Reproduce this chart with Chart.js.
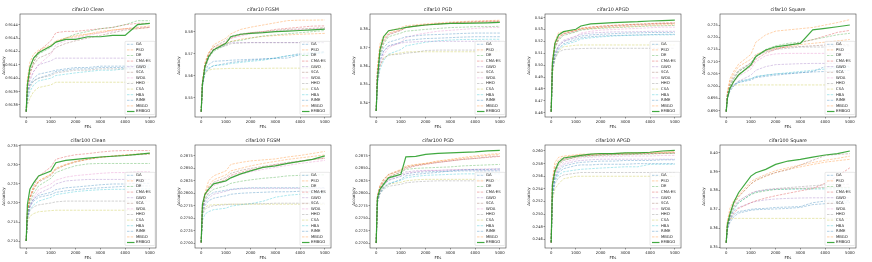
<!DOCTYPE html>
<html>
<head>
<meta charset="utf-8">
<script src="https://cdn.jsdelivr.net/npm/chart.js@4/dist/chart.umd.min.js"></script>
<style>
  html, body { margin: 0; padding: 0; background: #fff; overflow: hidden; width: 872px; height: 262px; }
  canvas { position: absolute; }
</style>
</head>
<body>
<script>
// shared x samples (function evaluations) and x ticks
const FES = [0, 50, 150, 300, 500, 1000, 1200, 1600, 2000, 2500, 3000, 3500, 4000, 4500, 5000];
const X_TICKS = [0, 1000, 2000, 3000, 4000, 5000];

const ALGOS = ["GA", "PSO", "DE", "CMA-ES", "GWO", "SCA", "WOA", "HHO", "CSA", "HBA", "RIME", "MBGO", "EMBGO"];

// series rows follow ALGOS order
const C10_CLEAN = [
  [0.91375, 0.9139, 0.91395, 0.914, 0.91403, 0.91405, 0.91406, 0.91407, 0.91408, 0.91408, 0.91409, 0.91409, 0.91409, 0.9141, 0.9141],
  [0.91375, 0.914, 0.91412, 0.91418, 0.91421, 0.91425, 0.91428, 0.9143, 0.91431, 0.91433, 0.91435, 0.91436, 0.91437, 0.91438, 0.91439],
  [0.91375, 0.91395, 0.91405, 0.91412, 0.91418, 0.91423, 0.91427, 0.9143, 0.91433, 0.91435, 0.91437, 0.91438, 0.9144, 0.91443, 0.91443],
  [0.91375, 0.91392, 0.91402, 0.91412, 0.9142, 0.91428, 0.91434, 0.91435, 0.91435, 0.91436, 0.91437, 0.91438, 0.9144, 0.91441, 0.91441],
  [0.91375, 0.9139, 0.91398, 0.91405, 0.9141, 0.91413, 0.91415, 0.91415, 0.91415, 0.91415, 0.91415, 0.91415, 0.91415, 0.91415, 0.91415],
  [0.91375, 0.91395, 0.91405, 0.9141, 0.91415, 0.91419, 0.91423, 0.91426, 0.91428, 0.9143, 0.91432, 0.91434, 0.91436, 0.91437, 0.91438],
  [0.91375, 0.9139, 0.914, 0.91405, 0.9141, 0.91418, 0.91425, 0.91428, 0.9143, 0.91432, 0.91434, 0.91435, 0.91437, 0.91438, 0.91438],
  [0.91375, 0.91385, 0.91393, 0.91398, 0.914, 0.91402, 0.91404, 0.91405, 0.91406, 0.91406, 0.91407, 0.91407, 0.91407, 0.91407, 0.91407],
  [0.91375, 0.9138, 0.91385, 0.9139, 0.91393, 0.91395, 0.91397, 0.91397, 0.91397, 0.91397, 0.91397, 0.91397, 0.91397, 0.91397, 0.91397],
  [0.91375, 0.91383, 0.9139, 0.91395, 0.91398, 0.914, 0.91402, 0.91403, 0.91404, 0.91405, 0.91406, 0.91406, 0.91407, 0.91407, 0.91408],
  [0.91375, 0.91388, 0.91395, 0.91398, 0.914, 0.91403, 0.91405, 0.91406, 0.91407, 0.91407, 0.91408, 0.91408, 0.91408, 0.91409, 0.91409],
  [0.91375, 0.91398, 0.91408, 0.91415, 0.9142, 0.91424, 0.91427, 0.9143, 0.91432, 0.91433, 0.91434, 0.91436, 0.91437, 0.91437, 0.91438],
  [0.91375, 0.91395, 0.91408, 0.91415, 0.91419, 0.91424, 0.91427, 0.91429, 0.91429, 0.91431, 0.91431, 0.91432, 0.91432, 0.9144, 0.91441]
];
const C10_FGSM = [
  [0.5436, 0.556, 0.562, 0.565, 0.5665, 0.5668, 0.567, 0.5672, 0.5674, 0.5676, 0.5678, 0.568, 0.5695, 0.570, 0.5705],
  [0.5436, 0.556, 0.565, 0.570, 0.574, 0.577, 0.579, 0.581, 0.582, 0.583, 0.584, 0.585, 0.5852, 0.5852, 0.5853],
  [0.5436, 0.555, 0.563, 0.568, 0.571, 0.574, 0.5755, 0.576, 0.577, 0.578, 0.5785, 0.579, 0.5795, 0.580, 0.5805],
  [0.5436, 0.557, 0.564, 0.569, 0.572, 0.575, 0.577, 0.5785, 0.5795, 0.580, 0.581, 0.5815, 0.582, 0.5825, 0.5826],
  [0.5436, 0.556, 0.564, 0.569, 0.572, 0.574, 0.575, 0.575, 0.575, 0.575, 0.575, 0.575, 0.575, 0.575, 0.575],
  [0.5436, 0.557, 0.565, 0.570, 0.573, 0.576, 0.578, 0.579, 0.5795, 0.580, 0.5805, 0.581, 0.5812, 0.5815, 0.5818],
  [0.5436, 0.555, 0.563, 0.568, 0.5715, 0.575, 0.577, 0.578, 0.579, 0.5795, 0.580, 0.5805, 0.581, 0.5812, 0.5815],
  [0.5436, 0.556, 0.564, 0.569, 0.572, 0.5735, 0.5745, 0.5748, 0.575, 0.575, 0.575, 0.575, 0.575, 0.575, 0.575],
  [0.5436, 0.557, 0.561, 0.5625, 0.563, 0.5632, 0.5633, 0.5633, 0.5633, 0.5633, 0.5634, 0.5634, 0.5634, 0.5634, 0.5634],
  [0.5436, 0.556, 0.5615, 0.5635, 0.5645, 0.565, 0.5655, 0.566, 0.5665, 0.567, 0.568, 0.569, 0.5695, 0.570, 0.5705],
  [0.5436, 0.555, 0.561, 0.563, 0.5645, 0.5655, 0.566, 0.5665, 0.567, 0.5675, 0.568, 0.569, 0.570, 0.5705, 0.571],
  [0.5436, 0.557, 0.566, 0.5705, 0.573, 0.5745, 0.5755, 0.5765, 0.5772, 0.5778, 0.5782, 0.5785, 0.5788, 0.579, 0.5792],
  [0.5436, 0.556, 0.5641, 0.5686, 0.5717, 0.5747, 0.5777, 0.5788, 0.5792, 0.5795, 0.580, 0.5802, 0.5805, 0.5808, 0.5811]
];
const C10_PGD = [
  [0.3355, 0.355, 0.365, 0.370, 0.373, 0.375, 0.376, 0.3765, 0.377, 0.3772, 0.3775, 0.3778, 0.378, 0.378, 0.378],
  [0.3355, 0.360, 0.372, 0.3765, 0.379, 0.381, 0.382, 0.3825, 0.383, 0.3835, 0.384, 0.3843, 0.3846, 0.3848, 0.385],
  [0.3355, 0.356, 0.366, 0.372, 0.376, 0.378, 0.379, 0.3795, 0.380, 0.3805, 0.381, 0.3812, 0.3815, 0.3815, 0.3817],
  [0.3355, 0.357, 0.368, 0.374, 0.3775, 0.3795, 0.381, 0.382, 0.3825, 0.383, 0.3835, 0.384, 0.3842, 0.3845, 0.3846],
  [0.3355, 0.352, 0.362, 0.368, 0.371, 0.3725, 0.373, 0.3732, 0.3735, 0.3735, 0.3735, 0.3735, 0.3735, 0.3735, 0.3735],
  [0.3355, 0.356, 0.367, 0.373, 0.377, 0.3795, 0.381, 0.382, 0.3825, 0.383, 0.3835, 0.3838, 0.384, 0.3842, 0.3843],
  [0.3355, 0.350, 0.360, 0.366, 0.370, 0.373, 0.3755, 0.377, 0.378, 0.379, 0.3795, 0.380, 0.3805, 0.381, 0.381],
  [0.3355, 0.352, 0.360, 0.364, 0.366, 0.3665, 0.367, 0.3675, 0.3685, 0.3687, 0.3687, 0.3687, 0.3687, 0.3687, 0.3687],
  [0.3355, 0.353, 0.360, 0.3645, 0.366, 0.3672, 0.3677, 0.3678, 0.3678, 0.3678, 0.3678, 0.3678, 0.3678, 0.3678, 0.3678],
  [0.3355, 0.350, 0.358, 0.363, 0.3665, 0.369, 0.371, 0.372, 0.373, 0.3738, 0.3742, 0.3745, 0.3745, 0.3746, 0.3746],
  [0.3355, 0.354, 0.363, 0.368, 0.371, 0.373, 0.374, 0.3745, 0.375, 0.3752, 0.3755, 0.3758, 0.376, 0.376, 0.376],
  [0.3355, 0.358, 0.370, 0.375, 0.378, 0.380, 0.381, 0.3818, 0.3825, 0.383, 0.3833, 0.3836, 0.3838, 0.384, 0.3842],
  [0.3355, 0.352, 0.3687, 0.376, 0.3793, 0.3805, 0.3811, 0.3818, 0.3824, 0.3829, 0.3833, 0.3833, 0.3834, 0.3836, 0.3838]
];
const C10_APGD = [
  [0.4608, 0.497, 0.508, 0.514, 0.518, 0.5215, 0.523, 0.524, 0.5245, 0.525, 0.5252, 0.5255, 0.5257, 0.526, 0.526],
  [0.4608, 0.505, 0.520, 0.5275, 0.528, 0.5295, 0.5305, 0.531, 0.5315, 0.532, 0.5325, 0.533, 0.5335, 0.534, 0.534],
  [0.4608, 0.500, 0.514, 0.521, 0.525, 0.528, 0.5295, 0.5305, 0.531, 0.5315, 0.532, 0.5325, 0.533, 0.5332, 0.5335],
  [0.4608, 0.502, 0.516, 0.523, 0.5265, 0.529, 0.531, 0.532, 0.5328, 0.5335, 0.534, 0.5345, 0.535, 0.5355, 0.5358],
  [0.4608, 0.498, 0.510, 0.517, 0.521, 0.5245, 0.526, 0.527, 0.5275, 0.528, 0.528, 0.5282, 0.5285, 0.5285, 0.5285],
  [0.4608, 0.501, 0.515, 0.522, 0.526, 0.5285, 0.530, 0.531, 0.532, 0.5328, 0.5335, 0.534, 0.5345, 0.535, 0.5352],
  [0.4608, 0.496, 0.508, 0.516, 0.520, 0.524, 0.527, 0.5285, 0.5295, 0.530, 0.5305, 0.531, 0.5315, 0.532, 0.532],
  [0.4608, 0.494, 0.505, 0.511, 0.513, 0.5138, 0.514, 0.5142, 0.5142, 0.5142, 0.5142, 0.5142, 0.5142, 0.5142, 0.5142],
  [0.4608, 0.492, 0.506, 0.512, 0.5155, 0.5168, 0.517, 0.517, 0.517, 0.517, 0.517, 0.517, 0.517, 0.517, 0.517],
  [0.4608, 0.495, 0.506, 0.513, 0.517, 0.520, 0.522, 0.523, 0.5238, 0.5245, 0.525, 0.5252, 0.5255, 0.5255, 0.5256],
  [0.4608, 0.498, 0.510, 0.516, 0.520, 0.523, 0.5245, 0.5255, 0.526, 0.5265, 0.527, 0.5272, 0.5275, 0.5275, 0.5276],
  [0.4608, 0.503, 0.517, 0.524, 0.527, 0.5295, 0.531, 0.532, 0.5328, 0.5335, 0.534, 0.5345, 0.5348, 0.535, 0.5352],
  [0.4608, 0.5015, 0.5184, 0.5254, 0.5282, 0.5302, 0.533, 0.5347, 0.5352, 0.5358, 0.5363, 0.5366, 0.5372, 0.5375, 0.538]
];
const C10_SQUARE = [
  [0.6896, 0.696, 0.699, 0.7005, 0.7015, 0.7025, 0.7035, 0.704, 0.7045, 0.705, 0.7055, 0.706, 0.708, 0.708, 0.7082],
  [0.6896, 0.697, 0.703, 0.706, 0.709, 0.713, 0.718, 0.721, 0.7225, 0.723, 0.7235, 0.724, 0.725, 0.726, 0.7272],
  [0.6896, 0.696, 0.700, 0.703, 0.706, 0.709, 0.7125, 0.715, 0.7165, 0.7175, 0.718, 0.719, 0.720, 0.721, 0.7216],
  [0.6896, 0.695, 0.699, 0.702, 0.705, 0.708, 0.711, 0.7135, 0.715, 0.7165, 0.7178, 0.719, 0.7205, 0.722, 0.7228],
  [0.6896, 0.695, 0.698, 0.700, 0.702, 0.7045, 0.7065, 0.708, 0.7088, 0.709, 0.7092, 0.7093, 0.7093, 0.7093, 0.7093],
  [0.6896, 0.697, 0.701, 0.704, 0.7065, 0.7095, 0.712, 0.7145, 0.7155, 0.716, 0.7162, 0.7165, 0.7168, 0.717, 0.717],
  [0.6896, 0.696, 0.699, 0.7015, 0.704, 0.707, 0.710, 0.7125, 0.7132, 0.7134, 0.7134, 0.7134, 0.7134, 0.7134, 0.7134],
  [0.6896, 0.697, 0.700, 0.703, 0.706, 0.7095, 0.7125, 0.714, 0.715, 0.7155, 0.716, 0.716, 0.716, 0.7165, 0.7165],
  [0.6896, 0.697, 0.6995, 0.7003, 0.7005, 0.7005, 0.7005, 0.7005, 0.7005, 0.7005, 0.7005, 0.7005, 0.7005, 0.7005, 0.7005],
  [0.6896, 0.695, 0.698, 0.700, 0.7015, 0.703, 0.704, 0.7045, 0.705, 0.7055, 0.706, 0.7065, 0.707, 0.7075, 0.7078],
  [0.6896, 0.696, 0.699, 0.7005, 0.702, 0.703, 0.7038, 0.7045, 0.705, 0.7052, 0.7055, 0.7058, 0.706, 0.7062, 0.7065],
  [0.6896, 0.698, 0.702, 0.705, 0.708, 0.711, 0.713, 0.7145, 0.7155, 0.716, 0.717, 0.7175, 0.718, 0.7185, 0.7191],
  [0.6896, 0.695, 0.6991, 0.7018, 0.7046, 0.7087, 0.7121, 0.7148, 0.7161, 0.7168, 0.7175, 0.723, 0.7236, 0.7243, 0.725]
];
const C100_CLEAN = [
  [0.710, 0.7165, 0.7195, 0.721, 0.722, 0.7228, 0.7235, 0.724, 0.7242, 0.7245, 0.7248, 0.725, 0.725, 0.7252, 0.7252],
  [0.710, 0.718, 0.7215, 0.724, 0.7258, 0.7275, 0.729, 0.730, 0.7308, 0.7315, 0.732, 0.7323, 0.7326, 0.7328, 0.733],
  [0.710, 0.717, 0.720, 0.7225, 0.7245, 0.7265, 0.728, 0.729, 0.7298, 0.7303, 0.7304, 0.7304, 0.7304, 0.7304, 0.7304],
  [0.710, 0.7175, 0.7215, 0.7245, 0.727, 0.7295, 0.7315, 0.7322, 0.7327, 0.733, 0.7334, 0.7337, 0.7338, 0.7338, 0.7338],
  [0.710, 0.716, 0.719, 0.721, 0.7225, 0.724, 0.725, 0.7258, 0.726, 0.7262, 0.7262, 0.7262, 0.7262, 0.7262, 0.7262],
  [0.710, 0.7175, 0.721, 0.7235, 0.7255, 0.7272, 0.7288, 0.730, 0.7308, 0.7315, 0.732, 0.7323, 0.7325, 0.7327, 0.7328],
  [0.710, 0.716, 0.719, 0.7215, 0.7235, 0.725, 0.726, 0.7268, 0.7272, 0.7275, 0.7278, 0.728, 0.728, 0.7282, 0.7282],
  [0.710, 0.7155, 0.718, 0.719, 0.7195, 0.720, 0.7203, 0.7205, 0.7205, 0.7205, 0.7205, 0.7205, 0.7205, 0.7205, 0.7205],
  [0.710, 0.715, 0.7165, 0.7172, 0.7177, 0.718, 0.7181, 0.7181, 0.7181, 0.7181, 0.7181, 0.7181, 0.7181, 0.7181, 0.7181],
  [0.710, 0.7158, 0.7182, 0.7195, 0.7205, 0.7215, 0.7222, 0.7226, 0.723, 0.7233, 0.7235, 0.7236, 0.7236, 0.7237, 0.7237],
  [0.710, 0.7162, 0.719, 0.7205, 0.7215, 0.7222, 0.7228, 0.7232, 0.7235, 0.7238, 0.724, 0.7242, 0.7244, 0.7245, 0.7245],
  [0.710, 0.7178, 0.7212, 0.7238, 0.7258, 0.7276, 0.7292, 0.7302, 0.731, 0.7316, 0.7321, 0.7324, 0.7327, 0.7329, 0.7331],
  [0.710, 0.7196, 0.7236, 0.7253, 0.7271, 0.7284, 0.7306, 0.7312, 0.7315, 0.7318, 0.7321, 0.7323, 0.7325, 0.7328, 0.7331]
];
const C100_FGSM = [
  [0.2701, 0.2765, 0.2785, 0.2795, 0.2802, 0.2806, 0.2808, 0.281, 0.2811, 0.2811, 0.2811, 0.2811, 0.2811, 0.2811, 0.2811],
  [0.2701, 0.2775, 0.280, 0.2825, 0.2835, 0.2845, 0.2858, 0.2862, 0.2865, 0.2867, 0.2869, 0.2873, 0.2876, 0.288, 0.2884],
  [0.2701, 0.2768, 0.2788, 0.280, 0.2808, 0.2815, 0.282, 0.2824, 0.2827, 0.283, 0.2832, 0.2835, 0.2836, 0.2837, 0.2837],
  [0.2701, 0.2772, 0.2795, 0.2808, 0.2818, 0.2828, 0.2836, 0.2842, 0.2847, 0.2852, 0.2857, 0.286, 0.2864, 0.2868, 0.2871],
  [0.2701, 0.2762, 0.278, 0.279, 0.2798, 0.2804, 0.2807, 0.2809, 0.281, 0.281, 0.281, 0.281, 0.281, 0.281, 0.281],
  [0.2701, 0.277, 0.2795, 0.2812, 0.2822, 0.2832, 0.284, 0.2846, 0.285, 0.2854, 0.2858, 0.2862, 0.2865, 0.2868, 0.287],
  [0.2701, 0.2765, 0.2788, 0.2803, 0.2815, 0.2825, 0.2833, 0.2838, 0.2843, 0.2848, 0.2852, 0.2856, 0.286, 0.2863, 0.2866],
  [0.2701, 0.2755, 0.2768, 0.2772, 0.2775, 0.2777, 0.2778, 0.2778, 0.2779, 0.2779, 0.278, 0.278, 0.278, 0.278, 0.278],
  [0.2701, 0.276, 0.2772, 0.2776, 0.2777, 0.2778, 0.2778, 0.2778, 0.2778, 0.2778, 0.2778, 0.2778, 0.2778, 0.2778, 0.2778],
  [0.2701, 0.2745, 0.2758, 0.2763, 0.2767, 0.277, 0.2774, 0.2777, 0.2779, 0.2784, 0.2792, 0.2796, 0.2798, 0.2799, 0.28],
  [0.2701, 0.2758, 0.2775, 0.2785, 0.279, 0.2795, 0.2798, 0.28, 0.2801, 0.2802, 0.2803, 0.2803, 0.2804, 0.2804, 0.2804],
  [0.2701, 0.2772, 0.2798, 0.2815, 0.2827, 0.2837, 0.2845, 0.285, 0.2855, 0.286, 0.2864, 0.2868, 0.2871, 0.2874, 0.2877],
  [0.2701, 0.2778, 0.2798, 0.2808, 0.2819, 0.2825, 0.2831, 0.2839, 0.2845, 0.2852, 0.2855, 0.286, 0.2864, 0.2868, 0.2875]
];
const C100_PGD = [
  [0.270, 0.2785, 0.280, 0.281, 0.2818, 0.2828, 0.2835, 0.2838, 0.284, 0.2842, 0.2845, 0.2847, 0.2848, 0.2848, 0.2849],
  [0.270, 0.2795, 0.2815, 0.2828, 0.2838, 0.2848, 0.2855, 0.2858, 0.286, 0.2865, 0.2868, 0.2872, 0.2875, 0.2878, 0.288],
  [0.270, 0.279, 0.2808, 0.282, 0.2832, 0.2842, 0.2848, 0.285, 0.2851, 0.2852, 0.2853, 0.2855, 0.2856, 0.2857, 0.2858],
  [0.270, 0.2792, 0.281, 0.2823, 0.2833, 0.2843, 0.285, 0.2855, 0.2858, 0.2862, 0.2865, 0.2868, 0.287, 0.2872, 0.2874],
  [0.270, 0.2788, 0.2805, 0.2818, 0.2828, 0.2838, 0.2843, 0.2845, 0.2846, 0.2846, 0.2847, 0.2847, 0.2847, 0.2847, 0.2847],
  [0.270, 0.2795, 0.2815, 0.2828, 0.2838, 0.2846, 0.2852, 0.2856, 0.2859, 0.2862, 0.2865, 0.2868, 0.287, 0.2873, 0.2875],
  [0.270, 0.2785, 0.2802, 0.2815, 0.2826, 0.2835, 0.284, 0.2843, 0.2845, 0.2846, 0.2847, 0.2848, 0.2848, 0.2849, 0.2849],
  [0.270, 0.278, 0.2798, 0.2808, 0.2814, 0.2818, 0.2821, 0.2823, 0.2824, 0.2825, 0.2825, 0.2825, 0.2825, 0.2825, 0.2825],
  [0.270, 0.2782, 0.2802, 0.2812, 0.2818, 0.2822, 0.2825, 0.2827, 0.2828, 0.2828, 0.2828, 0.2828, 0.2828, 0.2828, 0.2828],
  [0.270, 0.2782, 0.280, 0.2812, 0.282, 0.2826, 0.2831, 0.2834, 0.2836, 0.2837, 0.2838, 0.2839, 0.2839, 0.2839, 0.2839],
  [0.270, 0.2786, 0.2804, 0.2816, 0.2826, 0.2834, 0.2839, 0.2842, 0.2843, 0.2844, 0.2844, 0.2845, 0.2845, 0.2845, 0.2845],
  [0.270, 0.2793, 0.2812, 0.2825, 0.2836, 0.2846, 0.2853, 0.2857, 0.286, 0.2864, 0.2867, 0.287, 0.2873, 0.2876, 0.2878],
  [0.270, 0.2791, 0.2808, 0.2818, 0.2831, 0.2838, 0.2873, 0.2874, 0.2878, 0.288, 0.2881, 0.2882, 0.2883, 0.2885, 0.2886]
];
const C100_APGD = [
  [0.2455, 0.253, 0.2555, 0.2566, 0.2572, 0.2577, 0.2578, 0.2578, 0.2579, 0.2579, 0.2579, 0.258, 0.258, 0.258, 0.258],
  [0.2455, 0.2555, 0.2582, 0.259, 0.2592, 0.2594, 0.2595, 0.2595, 0.2596, 0.2596, 0.2597, 0.2597, 0.2598, 0.2598, 0.2599],
  [0.2455, 0.254, 0.2565, 0.2578, 0.2585, 0.259, 0.2591, 0.2592, 0.2593, 0.2594, 0.2594, 0.2595, 0.2595, 0.2596, 0.2596],
  [0.2455, 0.2545, 0.257, 0.258, 0.2586, 0.259, 0.2592, 0.2593, 0.2594, 0.2594, 0.2595, 0.2595, 0.2596, 0.2596, 0.2597],
  [0.2455, 0.2535, 0.256, 0.2572, 0.2579, 0.2584, 0.2585, 0.2586, 0.2587, 0.2587, 0.2587, 0.2587, 0.2587, 0.2587, 0.2587],
  [0.2455, 0.2548, 0.2572, 0.2582, 0.2587, 0.2591, 0.2592, 0.2593, 0.2594, 0.2595, 0.2595, 0.2596, 0.2596, 0.2597, 0.2597],
  [0.2455, 0.2538, 0.2562, 0.2575, 0.2582, 0.2587, 0.2589, 0.259, 0.2591, 0.2591, 0.2592, 0.2592, 0.2592, 0.2593, 0.2593],
  [0.2455, 0.2525, 0.2548, 0.2558, 0.2562, 0.2565, 0.2566, 0.2566, 0.2566, 0.2566, 0.2566, 0.2566, 0.2566, 0.2566, 0.2566],
  [0.2455, 0.2522, 0.254, 0.2548, 0.2556, 0.256, 0.256, 0.256, 0.256, 0.256, 0.256, 0.256, 0.256, 0.256, 0.256],
  [0.2455, 0.2528, 0.2552, 0.2562, 0.2567, 0.257, 0.2571, 0.2572, 0.2573, 0.2574, 0.2575, 0.2575, 0.2579, 0.2579, 0.2579],
  [0.2455, 0.2532, 0.2557, 0.2569, 0.2576, 0.2581, 0.2582, 0.2583, 0.2584, 0.2584, 0.2585, 0.2585, 0.2585, 0.2586, 0.2586],
  [0.2455, 0.255, 0.2576, 0.2586, 0.259, 0.2593, 0.2594, 0.2594, 0.2595, 0.2596, 0.2596, 0.2597, 0.2597, 0.2598, 0.2598],
  [0.2455, 0.2547, 0.2568, 0.2582, 0.2589, 0.2592, 0.2593, 0.2595, 0.2596, 0.2596, 0.2597, 0.2597, 0.2598, 0.26, 0.2601]
];
const C100_SQUARE = [
  [0.3523, 0.360, 0.3645, 0.3672, 0.3688, 0.370, 0.3703, 0.3705, 0.371, 0.3712, 0.3715, 0.3735, 0.3744, 0.3744, 0.3745],
  [0.3523, 0.364, 0.3705, 0.3745, 0.3775, 0.3848, 0.3862, 0.3885, 0.3905, 0.392, 0.3935, 0.3948, 0.396, 0.397, 0.3982],
  [0.3523, 0.361, 0.366, 0.3705, 0.3735, 0.3778, 0.3788, 0.3798, 0.3805, 0.3808, 0.381, 0.3812, 0.3814, 0.3815, 0.3816],
  [0.3523, 0.360, 0.3645, 0.368, 0.3705, 0.3735, 0.3745, 0.376, 0.3772, 0.3785, 0.3798, 0.381, 0.3838, 0.3875, 0.392],
  [0.3523, 0.3605, 0.3655, 0.369, 0.371, 0.3735, 0.3742, 0.375, 0.3755, 0.3758, 0.376, 0.3761, 0.3761, 0.3761, 0.3761],
  [0.3523, 0.362, 0.368, 0.3725, 0.3765, 0.3835, 0.3855, 0.3878, 0.3895, 0.391, 0.3935, 0.396, 0.3985, 0.3991, 0.3995],
  [0.3523, 0.361, 0.3665, 0.371, 0.3745, 0.3785, 0.3795, 0.3802, 0.3808, 0.381, 0.3812, 0.3815, 0.3817, 0.3818, 0.3818],
  [0.3523, 0.3615, 0.367, 0.3715, 0.3745, 0.3785, 0.3795, 0.3805, 0.381, 0.3815, 0.382, 0.3825, 0.383, 0.3832, 0.3833],
  [0.3523, 0.3635, 0.3652, 0.3652, 0.3652, 0.3652, 0.3652, 0.3652, 0.3652, 0.3652, 0.3652, 0.3652, 0.3652, 0.3652, 0.3652],
  [0.3523, 0.360, 0.365, 0.3695, 0.3735, 0.378, 0.3792, 0.3802, 0.3806, 0.3806, 0.3807, 0.3807, 0.3808, 0.3808, 0.3808],
  [0.3523, 0.359, 0.363, 0.366, 0.368, 0.3695, 0.3698, 0.370, 0.3702, 0.3705, 0.371, 0.3725, 0.373, 0.3732, 0.3735],
  [0.3523, 0.363, 0.3685, 0.373, 0.3768, 0.3835, 0.3852, 0.3875, 0.3895, 0.3912, 0.3925, 0.3938, 0.395, 0.3958, 0.3965],
  [0.3523, 0.362, 0.3673, 0.3735, 0.3788, 0.3876, 0.3894, 0.3912, 0.3938, 0.3956, 0.3965, 0.3977, 0.3988, 0.3995, 0.4009]
];

// y tick values per panel
const T_C10_CLEAN = [0.9138, 0.9139, 0.9140, 0.9141, 0.9142, 0.9143, 0.9144];
const T_C10_FGSM = [0.55, 0.56, 0.57, 0.58];
const T_C10_PGD = [0.34, 0.35, 0.36, 0.37, 0.38];
const T_C10_APGD = [0.46, 0.47, 0.48, 0.49, 0.50, 0.51, 0.52, 0.53, 0.54];
const T_C10_SQUARE = [0.690, 0.695, 0.700, 0.705, 0.710, 0.715, 0.720, 0.725];
const T_C100_CLEAN = [0.710, 0.715, 0.720, 0.725, 0.730, 0.735];
const T_C100_FGSM = [0.2700, 0.2725, 0.2750, 0.2775, 0.2800, 0.2825, 0.2850, 0.2875];
const T_C100_PGD = [0.2700, 0.2725, 0.2750, 0.2775, 0.2800, 0.2825, 0.2850, 0.2875];
const T_C100_APGD = [0.246, 0.248, 0.250, 0.252, 0.254, 0.256, 0.258, 0.260];
const T_C100_SQUARE = [0.35, 0.36, 0.37, 0.38, 0.39, 0.40];

const PANELS = [
  { title: "cifar10 Clean", series: C10_CLEAN, ticks: T_C10_CLEAN, dec: 4, min: 0.91371, max: 0.91448 },
  { title: "cifar10 FGSM", series: C10_FGSM, ticks: T_C10_FGSM, dec: 2, min: 0.5412, max: 0.5880 },
  { title: "cifar10 PGD", series: C10_PGD, ticks: T_C10_PGD, dec: 2, min: 0.3322, max: 0.3884 },
  { title: "cifar10 APGD", series: C10_APGD, ticks: T_C10_APGD, dec: 2, min: 0.4563, max: 0.5431 },
  { title: "cifar10 Square", series: C10_SQUARE, ticks: T_C10_SQUARE, dec: 3, min: 0.6874, max: 0.7295 },
  { title: "cifar100 Clean", series: C100_CLEAN, ticks: T_C100_CLEAN, dec: 3, min: 0.70816, max: 0.73526 },
  { title: "cifar100 FGSM", series: C100_FGSM, ticks: T_C100_FGSM, dec: 4, min: 0.2690, max: 0.2897 },
  { title: "cifar100 PGD", series: C100_PGD, ticks: T_C100_PGD, dec: 4, min: 0.2690, max: 0.2897 },
  { title: "cifar100 APGD", series: C100_APGD, ticks: T_C100_APGD, dec: 3, min: 0.24464, max: 0.26095 },
  { title: "cifar100 Square", series: C100_SQUARE, ticks: T_C100_SQUARE, dec: 2, min: 0.3495, max: 0.4041 }
];

// matplotlib tab10 cycle
const COLORS = ["#1f77b4", "#ff7f0e", "#2ca02c", "#d62728", "#9467bd", "#8c564b", "#e377c2", "#7f7f7f", "#bcbd22", "#17becf", "#1f77b4", "#ff7f0e", "#2ca02c"];

function rgba(hex, a) {
  const n = parseInt(hex.slice(1), 16);
  return `rgba(${n >> 16},${(n >> 8) & 255},${n & 255},${a})`;
}

Chart.defaults.font.family = "'DejaVu Sans', sans-serif";
Chart.defaults.color = "#222";

const panelTitle = {
  id: "panelTitle",
  afterDraw(chart, args, opts) {
    const { ctx, chartArea: a } = chart;
    ctx.save();
    ctx.font = "4.8px 'DejaVu Sans'";
    ctx.fillStyle = "#222";
    ctx.textAlign = "center";
    ctx.textBaseline = "bottom";
    ctx.fillText(opts.text, (a.left + a.right) / 2, a.top - 1.5);
    ctx.restore();
  }
};

const frame = {
  id: "frame",
  afterDatasetsDraw(chart) {
    const { ctx, chartArea: a } = chart;
    ctx.save();
    ctx.strokeStyle = "#444";
    ctx.lineWidth = 0.6;
    ctx.strokeRect(a.left, a.top, a.right - a.left, a.bottom - a.top);
    ctx.restore();
  }
};

const legendBox = {
  id: "legendBox",
  afterDatasetsDraw(chart) {
    const { ctx, chartArea: a } = chart;
    const sets = chart.data.datasets;
    const pitch = 5.6, w = 30;
    const h = (sets.length - 1) * pitch + 6;
    const x0 = a.right - w - 1, y0 = a.bottom - h - 2.5;
    ctx.save();
    ctx.fillStyle = "rgba(255,255,255,0.8)";
    ctx.strokeStyle = "#d0d0d0";
    ctx.lineWidth = 0.5;
    ctx.beginPath();
    ctx.roundRect(x0, y0, w, h, 1);
    ctx.fill();
    ctx.stroke();
    ctx.font = "3.8px 'DejaVu Sans'";
    ctx.textBaseline = "middle";
    ctx.fillStyle = "#222";
    sets.forEach((d, i) => {
      const y = y0 + 3 + i * pitch;
      ctx.strokeStyle = d.borderColor;
      ctx.lineWidth = d.borderWidth;
      ctx.setLineDash(d.borderDash || []);
      ctx.beginPath();
      ctx.moveTo(x0 + 2, y);
      ctx.lineTo(x0 + 9.5, y);
      ctx.stroke();
      ctx.setLineDash([]);
      ctx.fillText(d.label, x0 + 11, y);
    });
    ctx.restore();
  }
};

PANELS.forEach((p, k) => {
  const canvas = document.createElement("canvas");
  canvas.width = 175;
  canvas.height = 131;
  canvas.style.left = Math.round((k % 5) * 174.9) + "px";
  canvas.style.top = (k < 5 ? 0 : 131) + "px";
  document.body.appendChild(canvas);

  const datasets = ALGOS.map((name, i) => {
    const main = name === "EMBGO";
    return {
      label: name,
      data: FES.map((x, j) => ({ x, y: p.series[i][j] })),
      borderColor: main ? rgba(COLORS[i], 0.9) : rgba(COLORS[i], 0.5),
      borderWidth: main ? 1.2 : 0.7,
      borderDash: main ? [] : [2.5, 1.2],
      pointRadius: 0,
      tension: 0,
      fill: false,
      order: main ? 0 : 1
    };
  });

  new Chart(canvas, {
    type: "line",
    data: { datasets },
    plugins: [frame, legendBox, panelTitle],
    options: {
      responsive: false,
      animation: false,
      devicePixelRatio: 1,
      layout: { padding: { top: 14, right: 19, left: 0, bottom: 0 } },
      plugins: {
        legend: { display: false },
        tooltip: { enabled: false },
        panelTitle: { text: p.title }
      },
      scales: {
        x: {
          type: "linear",
          min: -250,
          max: 5250,
          afterBuildTicks: (s) => { s.ticks = X_TICKS.map((v) => ({ value: v })); },
          afterFit: (s) => { s.height = 14; },
          grid: { drawOnChartArea: false, drawTicks: true, tickLength: 1.5, color: "#333", lineWidth: 0.5 },
          border: { display: false },
          ticks: { maxRotation: 0, autoSkip: false, padding: 1, font: { size: 3.8 }, color: "#222", callback: (v) => String(v) },
          title: { display: true, text: "FEs", font: { size: 4 }, color: "#222", padding: { top: 0, bottom: 2 } }
        },
        y: {
          type: "linear",
          min: p.min,
          max: p.max,
          afterBuildTicks: (s) => { s.ticks = p.ticks.map((v) => ({ value: v })); },
          afterFit: (s) => { s.width = 20; },
          grid: { drawOnChartArea: false, drawTicks: true, tickLength: 1.5, color: "#333", lineWidth: 0.5 },
          border: { display: false },
          ticks: { autoSkip: false, padding: 0.8, font: { size: 3.6 }, color: "#222", callback: (v) => Number(v).toFixed(p.dec) },
          title: { display: true, text: "Accuracy", font: { size: 4 }, color: "#222", padding: { top: 1.5, bottom: 0 } }
        }
      }
    }
  });
});
</script>
</body>
</html>
